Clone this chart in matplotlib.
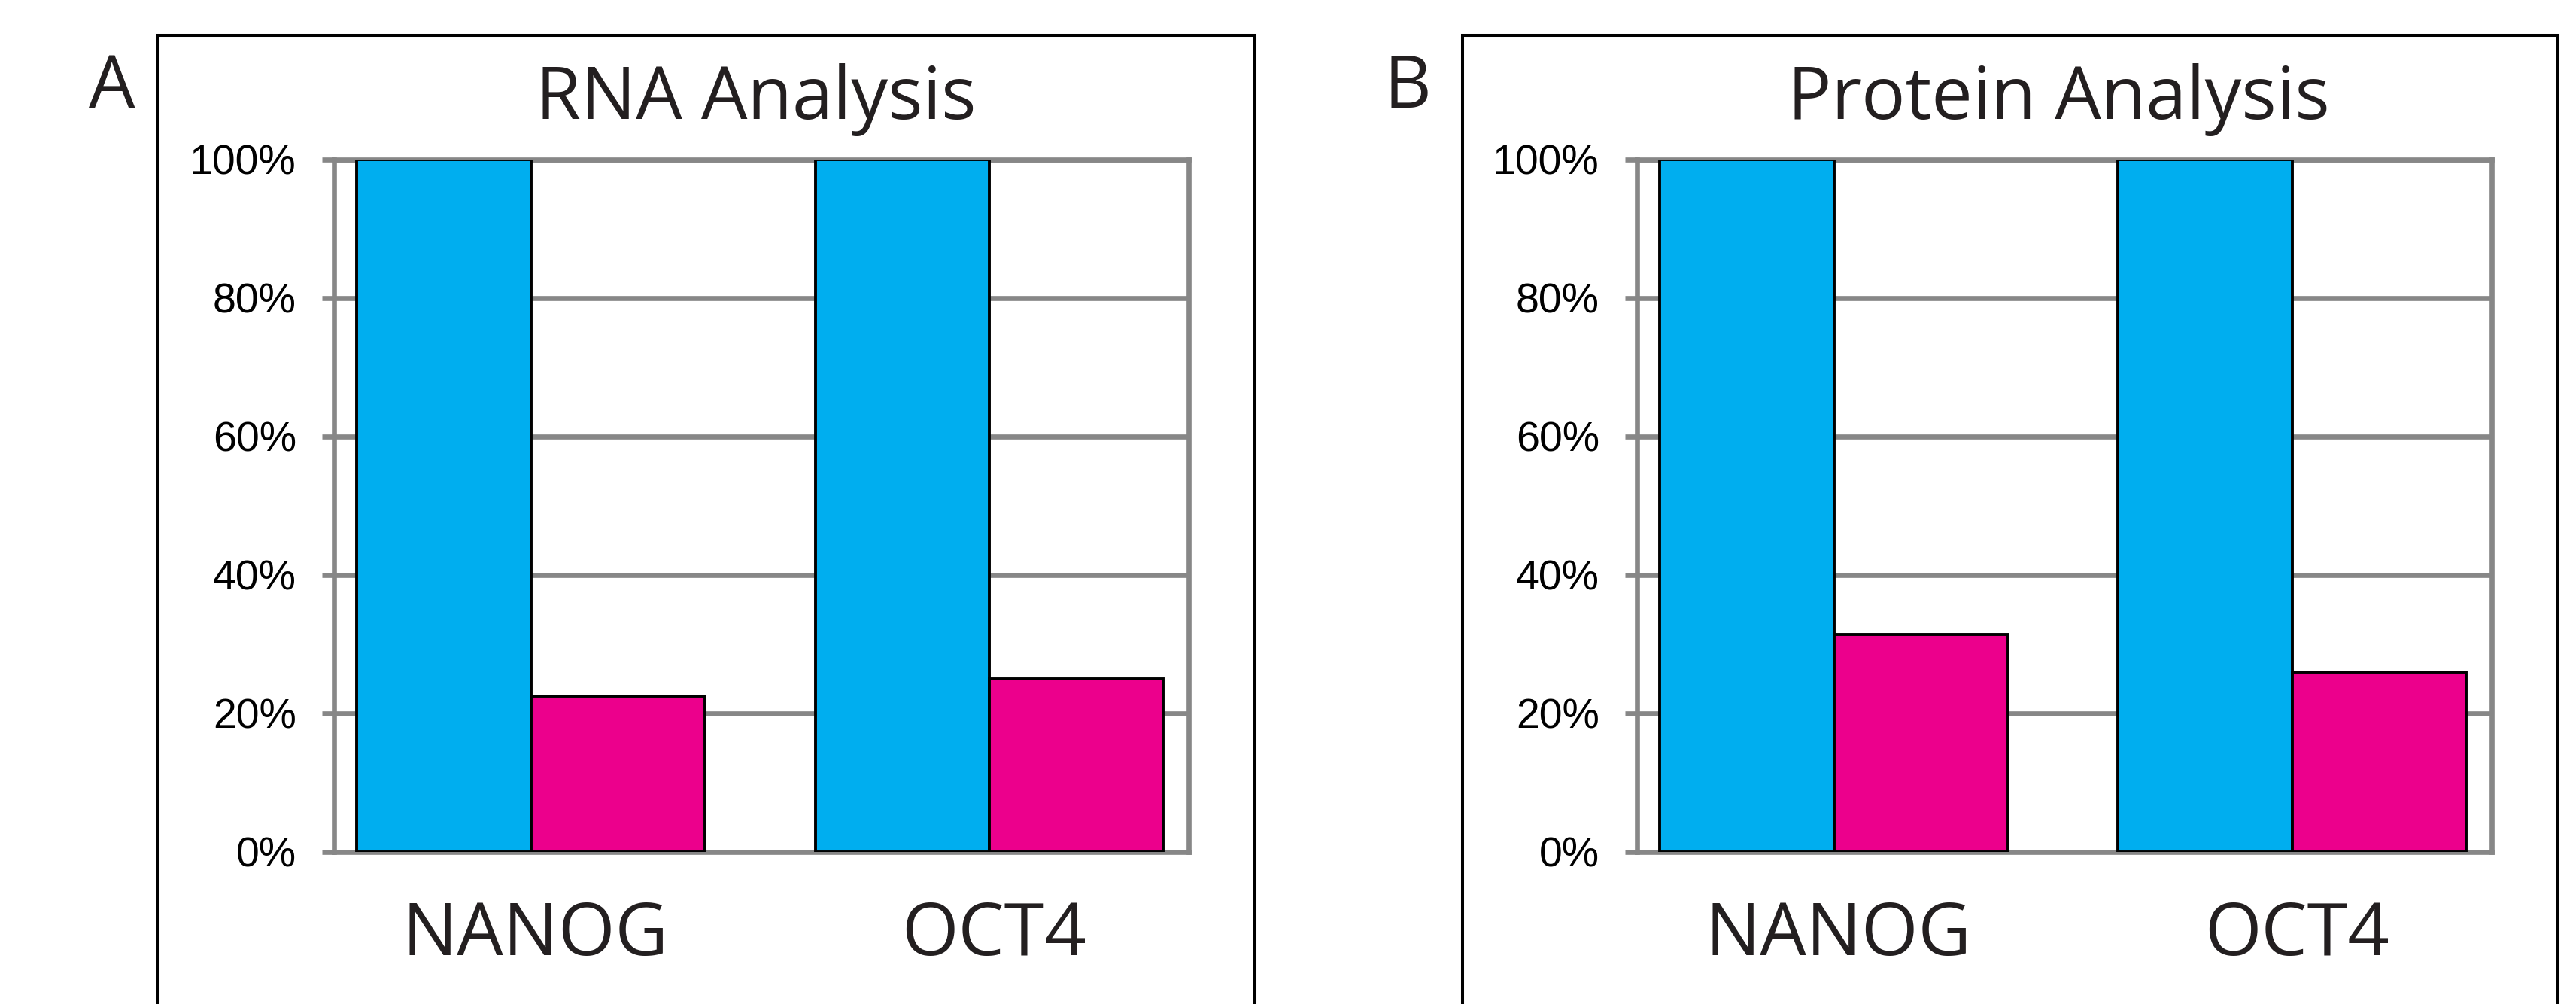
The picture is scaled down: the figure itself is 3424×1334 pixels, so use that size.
import matplotlib
matplotlib.use("Agg")
import matplotlib.pyplot as plt
from matplotlib.patches import Rectangle
from matplotlib.ticker import PercentFormatter
from matplotlib.transforms import blended_transform_factory
import numpy as np

# ---------------- data ----------------
categories = ["NANOG", "OCT4"]
panel_letters = ["A", "B"]
panel_titles = ["RNA Analysis", "Protein Analysis"]
rna_control = [100, 100]
rna_treated = [22.5, 25.0]
protein_control = [100, 100]
protein_treated = [31.4, 26.0]
y_ticks = [0, 20, 40, 60, 80, 100]

panels = [(rna_control, rna_treated), (protein_control, protein_treated)]

# ---------------- layout (pixels) ----------------
W, H = 3424, 1334
fig = plt.figure(figsize=(W / 100, H / 100), dpi=100)
fig.patch.set_facecolor("white")


def fx(px):
    return px / W


def fy(py):
    return 1 - py / H


AX_TOP, AX_BOT = 211.7, 1131.7
axes_px = [(444, 1580), (2176, 3311.7)]
frames_px = [(210, 1668), (1944, 3400)]
letters_x = [149, 1871]
FRAME_TOP = 47
TITLE_BASE = 158
TITLE_SHIFT = -7
LETTER_BASE = 143
CAT_BASE = 1269

GRAY = "#878787"
BLUE = "#00AEEF"
PINK = "#EC008C"
TXT = "#231F20"
GRID_LW = 4.8
BIG = 70
TITLE_FONT = ["Open Sans", "DejaVu Sans"]
TICK_FONT = ["Liberation Sans", "DejaVu Sans"]

bar_w = 0.38

for i, ((ctrl, treat), (l, r)) in enumerate(zip(panels, axes_px)):
    # outer black frame
    fl, fr = frames_px[i]
    fig.add_artist(Rectangle((fx(fl), -0.05), fx(fr - fl), fy(FRAME_TOP) + 0.05,
                             fill=False, edgecolor="black", linewidth=2.9,
                             transform=fig.transFigure, clip_on=False))

    ax = fig.add_axes([fx(l), fy(AX_BOT), fx(r - l), (AX_BOT - AX_TOP) / H])
    x = np.arange(len(categories))
    ax.bar(x - bar_w / 2, ctrl, bar_w, color=BLUE, edgecolor="black",
           linewidth=2.8, zorder=3)
    ax.bar(x + bar_w / 2, treat, bar_w, color=PINK, edgecolor="black",
           linewidth=2.8, zorder=3)
    ax.set_xlim(-0.43, 1.435)
    ax.set_ylim(0, 100)
    ax.set_yticks(y_ticks)
    ax.yaxis.set_major_formatter(PercentFormatter(decimals=0))
    ax.grid(axis="y", color=GRAY, linewidth=GRID_LW, zorder=0)
    ax.set_axisbelow(True)
    ax.tick_params(axis="y", length=11.5, width=GRID_LW, color=GRAY, pad=24.5,
                   labelsize=40, labelcolor="black")
    for lbl in ax.get_yticklabels():
        lbl.set_fontfamily(TICK_FONT)
    ax.set_xticks([])
    for s in ax.spines.values():
        s.set_color(GRAY)
        s.set_linewidth(GRID_LW)

    # category labels
    trans = blended_transform_factory(ax.transData, fig.transFigure)
    for xi, cat in zip(x, categories):
        ax.text(xi + 0.01, fy(CAT_BASE), cat, transform=trans, ha="center",
                va="baseline", fontsize=BIG, family=TITLE_FONT, color=TXT,
                clip_on=False)

    # title
    fig.text(fx((l + r) / 2 + TITLE_SHIFT), fy(TITLE_BASE), panel_titles[i],
             ha="center", va="baseline", fontsize=BIG, family=TITLE_FONT,
             color=TXT)
    # panel letter
    fig.text(fx(letters_x[i]), fy(LETTER_BASE), panel_letters[i], ha="center",
             va="baseline", fontsize=BIG, family=TITLE_FONT, color=TXT)

fig.savefig("out.png", dpi=100, facecolor="white")
